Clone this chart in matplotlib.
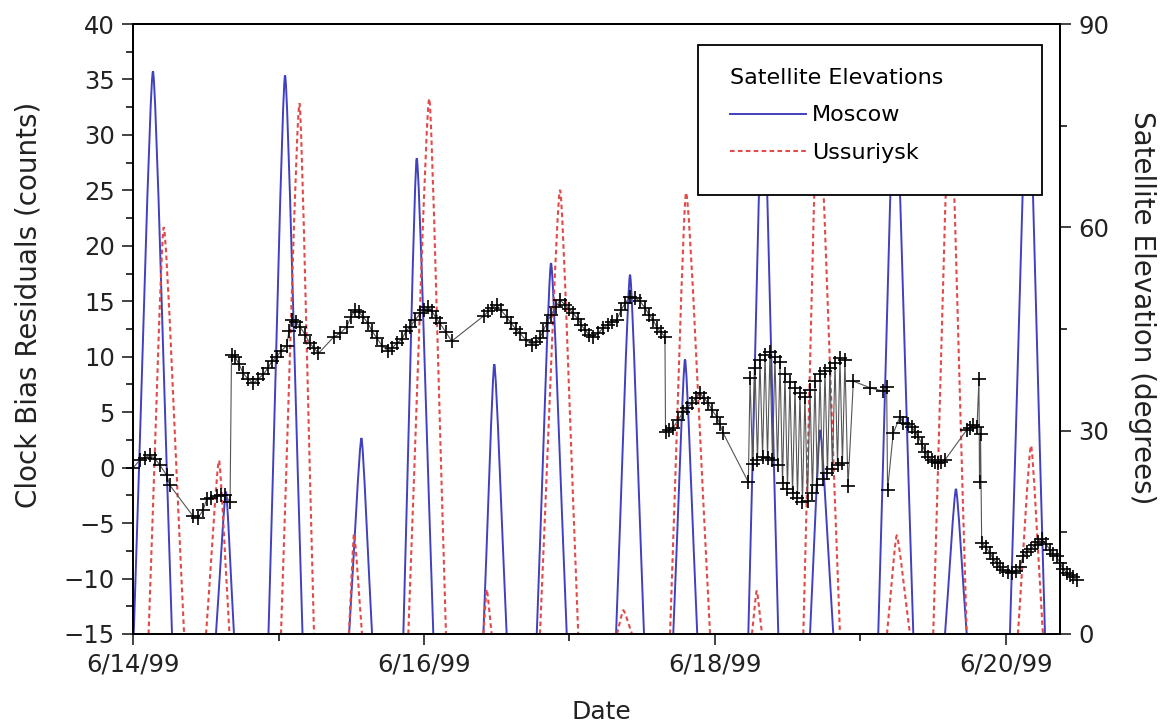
import matplotlib
matplotlib.use("Agg")
import matplotlib.pyplot as plt
import matplotlib.dates as mdates
from matplotlib.patches import Rectangle, PathPatch
from matplotlib.path import Path
from matplotlib.lines import Line2D
from matplotlib.ticker import MultipleLocator, FuncFormatter
import numpy as np
from datetime import datetime

plt.rcParams['font.family'] = ['DejaVu Sans']

# clock bias residuals, time in days since 6/14/99 00:00
bias_days = [
    0.002, 0.048, 0.082, 0.117, 0.151, 0.186, 0.232, 0.254, 0.414, 0.449,
    0.483, 0.507, 0.536, 0.575, 0.605, 0.632, 0.667, 0.677, 0.701, 0.729,
    0.758, 0.790, 0.827, 0.859, 0.896, 0.928, 0.955, 0.988, 1.017, 1.056,
    1.072, 1.091, 1.120, 1.148, 1.182, 1.216, 1.244, 1.274, 1.381, 1.423,
    1.469, 1.498, 1.526, 1.553, 1.583, 1.615, 1.643, 1.675, 1.711, 1.755,
    1.780, 1.812, 1.849, 1.876, 1.904, 1.938, 1.973, 2.000, 2.030, 2.055,
    2.082, 2.110, 2.151, 2.190, 2.412, 2.442, 2.467, 2.500, 2.529, 2.568,
    2.598, 2.632, 2.660, 2.701, 2.740, 2.770, 2.797, 2.818, 2.843, 2.873,
    2.907, 2.935, 2.969, 2.997, 3.026, 3.058, 3.079, 3.107, 3.134, 3.164,
    3.196, 3.232, 3.265, 3.292, 3.324, 3.354, 3.381, 3.416, 3.450, 3.485,
    3.519, 3.546, 3.576, 3.601, 3.629, 3.656, 3.660, 3.684, 3.713, 3.746,
    3.782, 3.808, 3.840, 3.869, 3.897, 3.924, 3.954, 3.979, 4.012, 4.034,
    4.057, 4.229, 4.241, 4.258, 4.275, 4.292, 4.309, 4.327, 4.344, 4.361,
    4.378, 4.395, 4.412, 4.430, 4.447, 4.464, 4.481, 4.498, 4.515, 4.533,
    4.550, 4.567, 4.584, 4.601, 4.618, 4.636, 4.653, 4.670, 4.687, 4.704,
    4.722, 4.739, 4.756, 4.773, 4.790, 4.807, 4.825, 4.842, 4.859, 4.876,
    4.893, 4.914, 4.951, 5.065, 5.155, 5.180, 5.186, 5.225, 5.272, 5.294,
    5.326, 5.352, 5.375, 5.397, 5.423, 5.443, 5.464, 5.489, 5.512, 5.535,
    5.553, 5.581, 5.730, 5.753, 5.775, 5.801, 5.814, 5.818, 5.825, 5.833,
    5.863, 5.890, 5.911, 5.936, 5.959, 5.981, 6.014, 6.039, 6.069, 6.096,
    6.119, 6.144, 6.172, 6.199, 6.220, 6.245, 6.275, 6.302, 6.323, 6.348,
    6.371, 6.392, 6.417, 6.440, 6.460, 6.486,
]
bias_counts = [
    0.0, 0.7, 0.9, 1.1, 0.8, 0.2, -0.7, -1.6, -4.4, -4.5,
    -3.8, -2.8, -2.7, -2.6, -2.5, -2.5, -3.1, 10.2, 10.0, 9.3,
    8.5, 8.0, 7.6, 8.0, 8.4, 9.0, 9.6, 10.0, 10.5, 11.0,
    12.3, 13.3, 13.1, 12.7, 12.0, 11.2, 10.8, 10.3, 11.8, 12.1,
    12.7, 13.6, 14.2, 14.0, 13.6, 13.0, 12.3, 11.7, 11.0, 10.5,
    10.8, 11.2, 11.6, 12.3, 12.7, 13.3, 13.9, 14.2, 14.5, 14.1,
    13.5, 13.0, 12.2, 11.4, 13.7, 14.1, 14.4, 14.7, 14.2, 13.6,
    13.0, 12.5, 12.1, 11.5, 11.1, 11.3, 11.7, 12.3, 13.0, 13.8,
    14.5, 15.1, 14.7, 14.3, 13.9, 13.4, 12.9, 12.4, 12.0, 11.8,
    12.1, 12.6, 12.9, 13.1, 13.3, 14.2, 14.8, 15.4, 15.3, 15.0,
    14.4, 13.8, 13.3, 12.6, 12.2, 11.8, 3.2, 3.4, 3.6, 4.3,
    5.0, 5.4, 5.8, 6.3, 6.7, 6.3, 5.8, 5.2, 4.6, 3.9,
    3.1, -1.3, 8.1, 0.3, 9.0, 0.7, 9.7, 1.0, 10.2, 0.9,
    10.4, 0.7, 10.0, 0.2, 9.5, -1.4, 8.4, -1.9, 7.7, -2.3,
    7.2, -2.7, 6.7, -3.1, 6.4, -3.0, 7.0, -2.3, 7.8, -1.6,
    8.4, -1.0, 8.7, -0.5, 9.0, -0.1, 9.4, 0.2, 9.9, 0.4,
    9.7, -1.7, 7.8, 7.2, 6.9, 7.3, -2.0, 3.1, 4.6, 4.0,
    3.9, 3.7, 3.2, 2.8, 2.1, 1.45, 1.0, 0.7, 0.5, 0.4,
    0.5, 0.7, 3.4, 3.6, 3.85, 3.7, 8.0, -1.3, 3.0, -6.8,
    -7.2, -7.7, -8.2, -8.6, -9.0, -9.2, -9.4, -9.5, -9.3, -9.0,
    -8.0, -7.6, -7.3, -7.0, -6.7, -6.4, -6.9, -7.4, -7.8, -8.0,
    -8.6, -9.1, -9.5, -9.7, -9.9, -10.1,
]

# satellite passes: rise, culmination, set (days) and peak elevation (degrees)
moscow_rise = [0.005, 0.570, 0.931, 1.485, 1.858, 2.408, 2.775, 3.320, 3.713, 4.229, 4.653, 5.122, 5.581, 6.027]
moscow_peak = [0.137, 0.639, 1.045, 1.570, 1.950, 2.483, 2.873, 3.416, 3.794, 4.330, 4.722, 5.237, 5.656, 6.151]
moscow_set = [0.268, 0.694, 1.165, 1.643, 2.064, 2.568, 2.981, 3.512, 3.878, 4.435, 4.813, 5.363, 5.730, 6.268]
moscow_elev = [83.0, 21.0, 82.4, 28.9, 70.2, 39.8, 54.7, 53.0, 40.5, 82.0, 30.1, 82.0, 21.4, 84.0]

ussuriysk_rise = [0.107, 0.502, 1.017, 1.484, 1.892, 2.408, 2.797, 3.326, 3.691, 4.254, 4.607, 5.182, 5.500, 6.082]
ussuriysk_peak = [0.211, 0.591, 1.144, 1.519, 2.036, 2.431, 2.935, 3.370, 3.801, 4.287, 4.708, 5.249, 5.615, 6.172]
ussuriysk_set = [0.351, 0.663, 1.244, 1.574, 2.151, 2.465, 3.060, 3.430, 3.966, 4.323, 4.859, 5.340, 5.730, 6.254]
ussuriysk_elev = [60.0, 25.6, 78.3, 14.8, 79.0, 6.6, 65.5, 3.5, 65.1, 6.4, 80.0, 14.5, 80.0, 27.8]

t0 = mdates.date2num(datetime(1999, 6, 14))


def pass_path(rise, peak, sett, elev):
    # each pass drawn as two bezier arcs: horizon -> culmination -> horizon
    verts, codes = [], []
    for r, p, s, e in zip(rise, peak, sett, elev):
        r, p, s = t0 + r, t0 + p, t0 + s
        verts += [(r, 0), (r + (p - r) / 3, e / 3), (p - 0.15 * (p - r), e), (p, e),
                  (p + 0.15 * (s - p), e), (s - (s - p) / 3, e / 3), (s, 0)]
        codes += [Path.MOVETO] + [Path.CURVE4] * 6
    return Path(verts, codes)


fig = plt.figure(figsize=(11.75, 7.23), dpi=100)
ax = fig.add_axes([0.1132, 0.1231, 0.7889, 0.8437])
ax2 = ax.twinx()
ax.set_zorder(ax2.get_zorder() + 1)
ax.patch.set_visible(False)

blue = '#4040c0'
red = '#e24a4a'
red_dash = (0, (2.2, 1.6))
ax2.add_patch(PathPatch(pass_path(moscow_rise, moscow_peak, moscow_set, moscow_elev),
                        fill=False, edgecolor=blue, lw=1.4))
ax2.add_patch(PathPatch(pass_path(ussuriysk_rise, ussuriysk_peak, ussuriysk_set, ussuriysk_elev),
                        fill=False, edgecolor=red, lw=1.5, linestyle=red_dash))

ax.plot(t0 + np.array(bias_days), bias_counts, color='#555555', lw=0.8,
        marker='+', markersize=10, markeredgewidth=1.2, markeredgecolor='black',
        clip_on=False)

ax.set_xlim(t0, t0 + 6.371)
ax.set_ylim(-15, 40)
ax2.set_ylim(0, 90)

ax.xaxis.set_major_locator(MultipleLocator(2))
ax.xaxis.set_minor_locator(MultipleLocator(1))


def date_label(v, pos):
    d = mdates.num2date(v)
    return f"{d.month}/{d.day}/{d:%y}"


ax.xaxis.set_major_formatter(FuncFormatter(date_label))
ax.yaxis.set_major_locator(MultipleLocator(5))
ax.yaxis.set_minor_locator(MultipleLocator(2.5))
ax2.yaxis.set_major_locator(MultipleLocator(30))
ax2.yaxis.set_minor_locator(MultipleLocator(15))

for a in (ax, ax2):
    for sp in a.spines.values():
        sp.set_linewidth(1.3)
    a.tick_params(which='major', direction='out', length=8, width=1.2,
                  labelsize=17.5, colors='#222222', pad=5)
    a.tick_params(which='minor', direction='out', length=5, width=1.1)
ax.tick_params(axis='x', which='both', top=False)

ax.set_xlabel('Date', fontsize=18, color='#222222')
ax.xaxis.set_label_coords(0.505, -0.108)
ax.set_ylabel('Clock Bias Residuals (counts)', fontsize=20, color='#222222', va='center')
ax.yaxis.set_label_coords(-0.113, 0.54)
ax2.set_ylabel('Satellite Elevation (degrees)', fontsize=20, color='#222222',
               rotation=270, va='center')
ax2.yaxis.set_label_coords(1.088, 0.535)

# legend box
ax2.add_patch(Rectangle((0.6095, 0.7197), 0.3711, 0.2459, transform=ax2.transAxes,
                        facecolor='white', edgecolor='black', lw=1.3, zorder=4))
handles = [Line2D([], [], color=blue, lw=1.4),
           Line2D([], [], color=red, lw=1.5, linestyle=red_dash)]
ax2.legend(handles, ['Moscow', 'Ussuriysk'], title='Satellite Elevations', loc='upper left',
           bbox_to_anchor=(730 / 1175, 1 - 68 / 723), bbox_transform=fig.transFigure,
           frameon=False, borderpad=0, borderaxespad=0, fontsize=16, title_fontsize=16,
           handlelength=3.4, handletextpad=0.3, labelspacing=0.78, alignment='left')

fig.savefig('out.png', dpi=100, facecolor='white')
